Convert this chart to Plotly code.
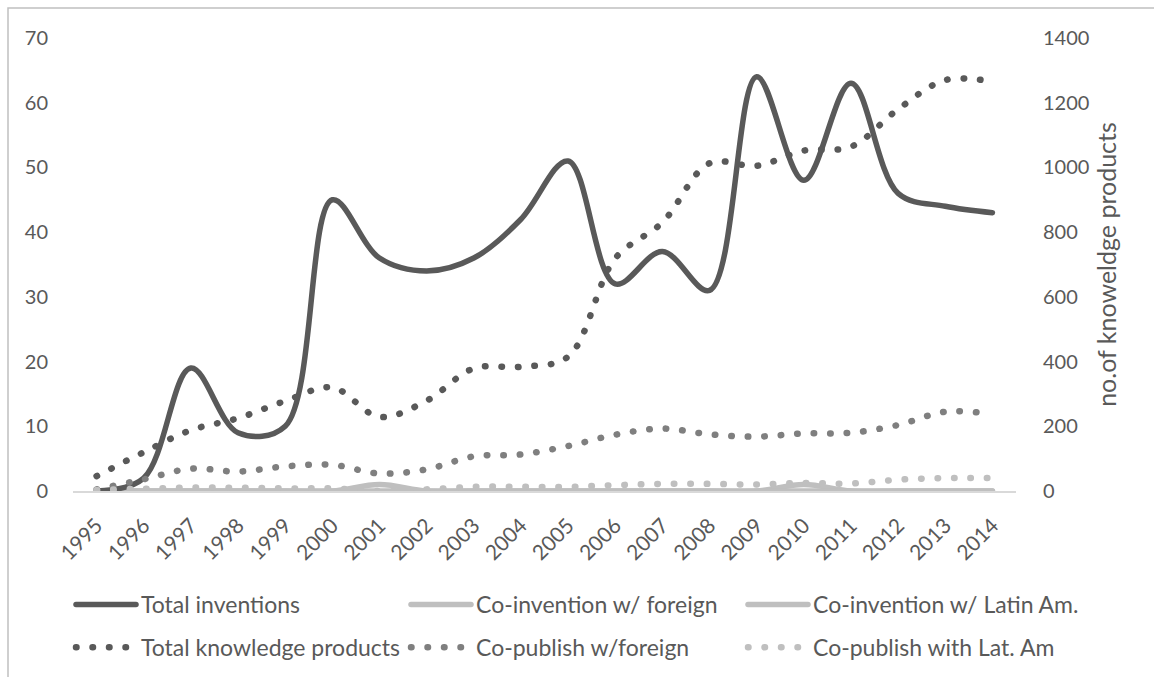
import plotly.graph_objects as go

# Annual series, 1995-2014
years = [str(y) for y in range(1995, 2015)]

# Inventions (left axis)
total_inventions = [0, 2, 19, 9, 10, 45, 36, 34, 36, 42, 51, 32, 37, 31, 64, 48, 63, 46, 44, 43]
co_invention_foreign = [0, 0, 0, 0, 0, 0, 1, 0, 0, 0, 0, 0, 0, 0, 0, 1, 0, 0, 0, 0]
co_invention_latin = [0, 0, 0, 0, 0, 0, 0, 0, 0, 0, 0, 0, 0, 0, 0, 0, 0, 0, 0, 0]

# Knowledge products (right axis)
total_knowledge = [46, 120, 188, 225, 278, 320, 229, 279, 379, 384, 415, 719, 830, 1013, 1005, 1052, 1064, 1180, 1270, 1265]
copublish_foreign = [5, 36, 69, 60, 76, 81, 54, 67, 107, 113, 139, 174, 193, 175, 168, 178, 180, 204, 245, 238]
copublish_latam = [3, 7, 11, 10, 8, 8, 0, 5, 13, 13, 13, 18, 22, 22, 20, 25, 23, 35, 40, 40]

DARK = "#595959"
MID = "#7f7f7f"
LIGHT = "#bfbfbf"
TEXT = "#595959"
FONT = "Lato"
DOTS = "0.5px,16px"

fig = go.Figure()


def add_line(name, values, color, axis, legend, group, dash=None, width=5.5):
    fig.add_trace(go.Scatter(
        x=years, y=values, name=name, mode="lines",
        line=dict(color=color, width=width, shape="spline", smoothing=1,
                  dash=dash if dash else "solid"),
        yaxis=axis, legend=legend, legendgroup=group,
        hoverinfo="skip",
    ))


# Solid lines on the inventions axis
add_line("Co-invention w/ foreign", co_invention_foreign, LIGHT, "y", "legend2", "a")
add_line("Co-invention w/ Latin Am.", co_invention_latin, LIGHT, "y", "legend3", "a")
add_line("Total inventions", total_inventions, DARK, "y", "legend", "a")

# Dotted lines on the knowledge-products axis
add_line("Total knowledge products", total_knowledge, DARK, "y2", "legend", "b", DOTS, 6.5)
add_line("Co-publish w/foreign", copublish_foreign, MID, "y2", "legend2", "b", DOTS, 6.5)
add_line("Co-publish with Lat. Am", copublish_latam, LIGHT, "y2", "legend3", "b", DOTS, 6.5)

W, H = 1154, 677
L, R, T, B = 73, 138, 38, 186
pw, ph = W - L - R, H - T - B


def px_x(x):
    return (x - L) / pw


def px_y(y):
    return (H - B - y) / ph


legend_common = dict(
    orientation="v", xanchor="left", yanchor="top",
    font=dict(family=FONT, size=23, color=TEXT),
    bgcolor="rgba(0,0,0,0)", itemwidth=60, tracegroupgap=10,
    traceorder="grouped",
)

fig.update_layout(
    width=W, height=H,
    margin=dict(l=L, r=R, t=T, b=B, autoexpand=False),
    paper_bgcolor="white", plot_bgcolor="white",
    font=dict(family=FONT, size=20, color=TEXT),
    xaxis=dict(
        type="category", range=[-0.5, 19.5], tickangle=-45,
        showgrid=False, zeroline=False,
        ticks="outside", ticklen=12, tickcolor="rgba(0,0,0,0)",
        showline=True, linecolor="#d9d9d9", linewidth=2,
        tickfont=dict(family=FONT, size=21, color=TEXT),
        automargin=False,
    ),
    yaxis=dict(
        range=[0, 70], dtick=10, showgrid=False, zeroline=False,
        showline=False, ticks="outside", ticklen=20, tickcolor="rgba(0,0,0,0)",
        tickfont=dict(family=FONT, size=20, color=TEXT),
        automargin=False,
    ),
    yaxis2=dict(
        range=[0, 1400], dtick=200, overlaying="y", side="right",
        showgrid=False, zeroline=False, showline=False,
        ticks="outside", ticklen=22, tickcolor="rgba(0,0,0,0)",
        tickfont=dict(family=FONT, size=20, color=TEXT),
        title=dict(text="no.of knoweldge products", standoff=10,
                   font=dict(family=FONT, size=25, color=TEXT)),
        automargin=False,
    ),
    legend=dict(legend_common, x=px_x(71), y=px_y(583)),
    legend2=dict(legend_common, x=px_x(406), y=px_y(583)),
    legend3=dict(legend_common, x=px_x(743), y=px_y(583)),
    shapes=[dict(
        type="rect", xref="paper", yref="paper", layer="below",
        x0=px_x(8), x1=px_x(1162), y0=px_y(690), y1=px_y(8),
        line=dict(color="#c0c0c0", width=1.5), fillcolor="rgba(0,0,0,0)",
    )],
)

round_caps = (
    "var s=document.createElement('style');"
    "s.textContent='.js-line{stroke-linecap:round;stroke-linejoin:round}';"
    "document.head.appendChild(s);"
)

fig.write_html("out.html", post_script=round_caps)
